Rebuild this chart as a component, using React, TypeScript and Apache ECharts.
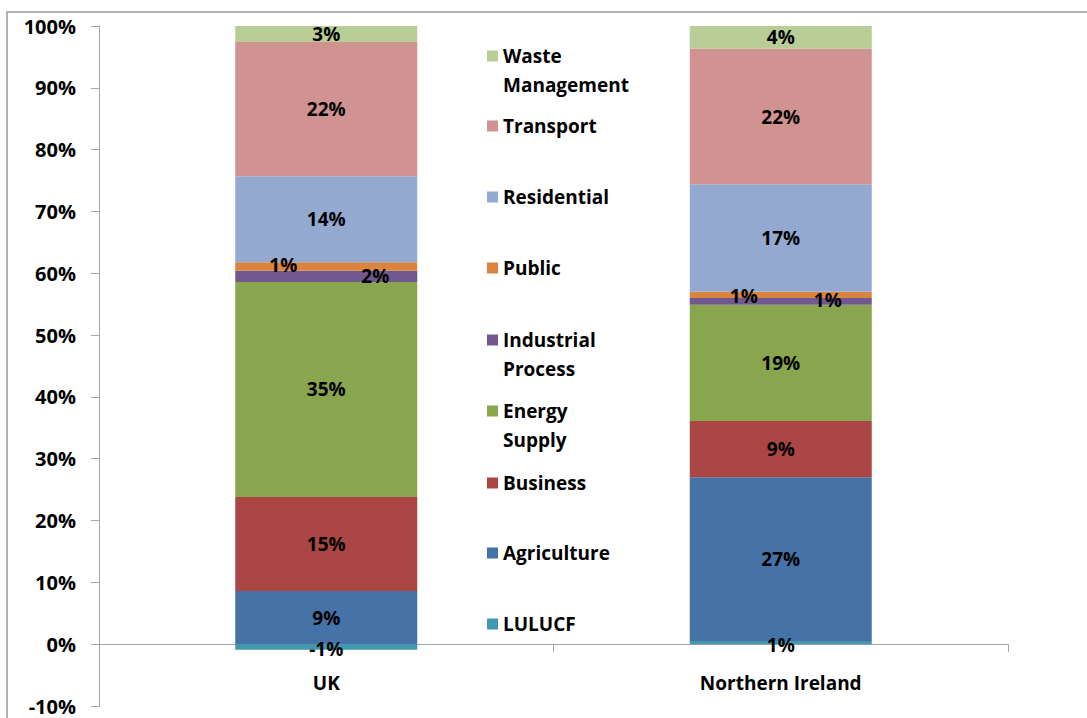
import React, { useEffect, useRef } from "react";
import * as echarts from "echarts";

// ---- data (percent of total emissions) ----
const categories = ["UK", "Northern Ireland"];
const lulucf = [-0.9, 0.5];
const agriculture = [8.6, 26.5];
const business = [15.2, 9.1];
const energySupply = [34.8, 18.8];
const industrialProcess = [1.8, 1.1];
const publicSector = [1.4, 1.0];
const residential = [13.9, 17.4];
const transport = [21.7, 21.9];
const wasteManagement = [2.6, 3.7];

const yMin = -10;
const yMax = 100;
const yStep = 10;

const FONT = "'Open Sans', 'Liberation Sans', sans-serif";

const seriesDefs = [
  { name: "LULUCF", data: lulucf, color: "#4198AF" },
  { name: "Agriculture", data: agriculture, color: "#4572A7" },
  { name: "Business", data: business, color: "#AA4643" },
  { name: "Energy Supply", data: energySupply, color: "#89A54E" },
  { name: "Industrial Process", data: industrialProcess, color: "#71588F" },
  { name: "Public", data: publicSector, color: "#DB843D" },
  { name: "Residential", data: residential, color: "#93A9D0" },
  { name: "Transport", data: transport, color: "#D19392" },
  { name: "Waste Management", data: wasteManagement, color: "#B9CD96" },
];

// manual label nudges (as in the original, small slices have labels moved aside)
const labelOffsets: Record<string, [number, number][]> = {
  LULUCF: [[0, 2], [0, 2]],
  Public: [[-43, -1], [-37, 1]],
  "Industrial Process": [[49, 0], [47, -1]],
};

// legend layout: vertical centre of each marker
const legendLayout = [
  { name: "Waste Management", cy: 56 },
  { name: "Transport", cy: 126 },
  { name: "Residential", cy: 197 },
  { name: "Public", cy: 268 },
  { name: "Industrial Process", cy: 340 },
  { name: "Energy Supply", cy: 411 },
  { name: "Business", cy: 483 },
  { name: "Agriculture", cy: 553 },
  { name: "LULUCF", cy: 624 },
];

export default function App() {
  const ref = useRef<HTMLDivElement>(null);

  useEffect(() => {
    document.body.style.margin = "0";
    if (!ref.current) return;
    const chart = echarts.init(ref.current, null, { renderer: "svg" });

    const series = seriesDefs.map((s) => ({
      name: s.name,
      type: "bar",
      stack: "total",
      barWidth: 182,
      itemStyle: { color: s.color },
      label: {
        show: true,
        position: "inside",
        color: "#000",
        fontFamily: FONT,
        fontWeight: "bold",
        fontSize: 19,
        formatter: (p: any) => Math.round(p.value) + "%",
      },
      data: s.data.map((v, i) => {
        const off = labelOffsets[s.name];
        return off ? { value: v, label: { offset: off[i] } } : { value: v };
      }),
    }));

    const lh = 29;
    const legends = legendLayout.map((l) => {
      const twoLine = l.name.includes(" ");
      return {
        show: true,
        data: [l.name],
        left: 487,
        top: twoLine ? l.cy - (lh * 3) / 2 : l.cy - 12,
        padding: 0,
        icon: "rect",
        itemWidth: 11,
        itemHeight: 11,
        selectedMode: false,
        formatter: (n: string) => (n.includes(" ") ? "\n" + n.replace(" ", "\n") : n),
        textStyle: {
          fontFamily: FONT,
          fontWeight: "bold",
          fontSize: 19,
          color: "#000",
          lineHeight: twoLine ? lh : 24,
        },
      };
    });

    chart.setOption({
      animation: false,
      backgroundColor: "#fff",
      grid: {
        left: 99,
        right: 79,
        top: 26,
        bottom: 12,
        containLabel: false,
        outerBoundsMode: "none",
      },
      legend: legends,
      graphic: [
        {
          type: "rect",
          shape: { x: 7, y: 12, width: 1200, height: 800 },
          style: { fill: "none", stroke: "#9a9a9a", lineWidth: 1.5 },
          silent: true,
          z: -1,
        },
      ],
      xAxis: {
        type: "category",
        data: categories,
        axisLine: { onZero: true, lineStyle: { color: "#A6A6A6", width: 1 } },
        axisTick: { show: true, length: 8, lineStyle: { color: "#A6A6A6" } },
        axisLabel: {
          margin: -33,
          color: "#000",
          fontFamily: FONT,
          fontWeight: "bold",
          fontSize: 19,
        },
      },
      yAxis: {
        type: "value",
        min: yMin,
        max: yMax,
        interval: yStep,
        splitLine: { show: false },
        axisLine: { show: true, lineStyle: { color: "#A6A6A6", width: 1 } },
        axisTick: { show: true, length: 8, lineStyle: { color: "#A6A6A6" } },
        axisLabel: {
          margin: 23,
          color: "#000",
          fontFamily: FONT,
          fontWeight: "bold",
          fontSize: 20,
          formatter: "{value}%",
        },
      },
      series,
    });

    return () => chart.dispose();
  }, []);

  return <div ref={ref} style={{ width: 1087, height: 718 }} />;
}
